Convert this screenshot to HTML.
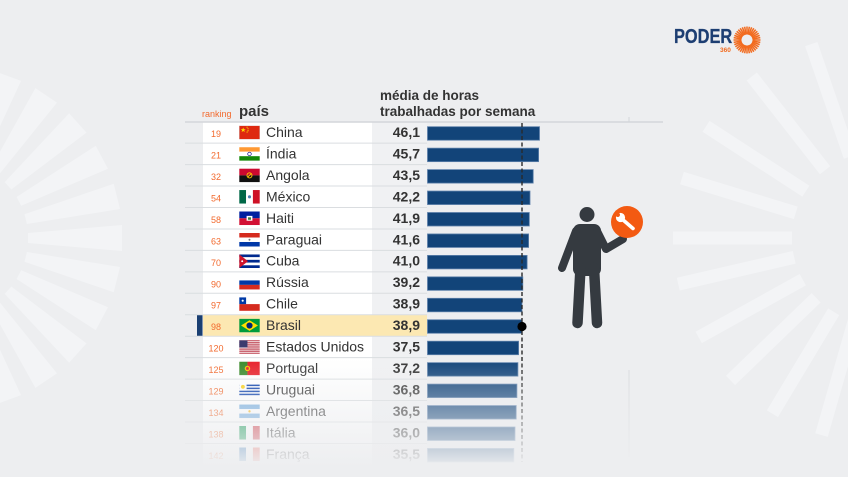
<!DOCTYPE html>
<html><head><meta charset="utf-8">
<style>
html,body{margin:0;padding:0;background:#edeef0;}
svg{display:block;}
text{font-family:"Liberation Sans",sans-serif;}
</style></head>
<body>
<svg width="848" height="477" viewBox="0 0 848 477" xmlns="http://www.w3.org/2000/svg">
<defs>
<linearGradient id="fade" gradientUnits="userSpaceOnUse" x1="0" y1="358" x2="0" y2="468">
<stop offset="0" stop-color="#edeef0" stop-opacity="0"/>
<stop offset="1" stop-color="#edeef0" stop-opacity="1"/>
</linearGradient>
</defs>
<rect width="848" height="477" fill="#edeef0"/>

<!-- left background sunburst -->
<g fill="#f3f4f6" transform="translate(-50,238)">
<g transform="rotate(-84)"><polygon points="78,-5 172,-13 172,13 78,5"/></g>
<g transform="rotate(-70)"><polygon points="78,-5 172,-13 172,13 78,5"/></g>
<g transform="rotate(-56)"><polygon points="78,-5 172,-13 172,13 78,5"/></g>
<g transform="rotate(-42)"><polygon points="78,-5 172,-13 172,13 78,5"/></g>
<g transform="rotate(-28)"><polygon points="78,-5 172,-13 172,13 78,5"/></g>
<g transform="rotate(-14)"><polygon points="78,-5 172,-13 172,13 78,5"/></g>
<g transform="rotate(0)"><polygon points="78,-5 172,-13 172,13 78,5"/></g>
<g transform="rotate(14)"><polygon points="78,-5 172,-13 172,13 78,5"/></g>
<g transform="rotate(28)"><polygon points="78,-5 172,-13 172,13 78,5"/></g>
<g transform="rotate(42)"><polygon points="78,-5 172,-13 172,13 78,5"/></g>
<g transform="rotate(56)"><polygon points="78,-5 172,-13 172,13 78,5"/></g>
<g transform="rotate(70)"><polygon points="78,-5 172,-13 172,13 78,5"/></g>
<g transform="rotate(84)"><polygon points="78,-5 172,-13 172,13 78,5"/></g>
</g>

<!-- right background sunburst -->
<g fill="#f3f4f6" transform="translate(878,238)">
<g transform="rotate(180)"><rect x="86" y="-6.5" width="119" height="13"/></g>
<g transform="rotate(197)"><rect x="86" y="-6.5" width="119" height="13"/></g>
<g transform="rotate(213)"><rect x="86" y="-6.5" width="119" height="13"/></g>
<g transform="rotate(232)"><rect x="86" y="-6.5" width="119" height="13"/></g>
<g transform="rotate(251)"><rect x="86" y="-6.5" width="119" height="13"/></g>
<g transform="rotate(167)"><rect x="86" y="-6.5" width="119" height="13"/></g>
<g transform="rotate(151)"><rect x="86" y="-6.5" width="119" height="13"/></g>
<g transform="rotate(136)"><rect x="86" y="-6.5" width="119" height="13"/></g>
<g transform="rotate(121)"><rect x="86" y="-6.5" width="119" height="13"/></g>
<g transform="rotate(106)"><rect x="86" y="-6.5" width="119" height="13"/></g>
</g>

<!-- logo -->
<text x="674" y="43" font-size="20" font-weight="bold" fill="#1d3e72" stroke="#1d3e72" stroke-width="0.3" transform="translate(674,0) scale(0.82,1) translate(-674,0)">PODER</text>
<text x="720" y="52" font-size="6.5" font-weight="bold" fill="#f26b1f">360</text>
<g stroke="#f26b1f" stroke-width="1.5" transform="translate(747,40)">
<g id="ray"><line x1="5.5" y1="0" x2="13.5" y2="0"/></g>
<use href="#ray" transform="rotate(10)"/><use href="#ray" transform="rotate(20)"/><use href="#ray" transform="rotate(30)"/>
<use href="#ray" transform="rotate(40)"/><use href="#ray" transform="rotate(50)"/><use href="#ray" transform="rotate(60)"/>
<use href="#ray" transform="rotate(70)"/><use href="#ray" transform="rotate(80)"/><use href="#ray" transform="rotate(90)"/>
<use href="#ray" transform="rotate(100)"/><use href="#ray" transform="rotate(110)"/><use href="#ray" transform="rotate(120)"/>
<use href="#ray" transform="rotate(130)"/><use href="#ray" transform="rotate(140)"/><use href="#ray" transform="rotate(150)"/>
<use href="#ray" transform="rotate(160)"/><use href="#ray" transform="rotate(170)"/><use href="#ray" transform="rotate(180)"/>
<use href="#ray" transform="rotate(190)"/><use href="#ray" transform="rotate(200)"/><use href="#ray" transform="rotate(210)"/>
<use href="#ray" transform="rotate(220)"/><use href="#ray" transform="rotate(230)"/><use href="#ray" transform="rotate(240)"/>
<use href="#ray" transform="rotate(250)"/><use href="#ray" transform="rotate(260)"/><use href="#ray" transform="rotate(270)"/>
<use href="#ray" transform="rotate(280)"/><use href="#ray" transform="rotate(290)"/><use href="#ray" transform="rotate(300)"/>
<use href="#ray" transform="rotate(310)"/><use href="#ray" transform="rotate(320)"/><use href="#ray" transform="rotate(330)"/>
<use href="#ray" transform="rotate(340)"/><use href="#ray" transform="rotate(350)"/>
</g>

<!-- headers -->
<text x="202" y="117" font-size="9" fill="#f26a2e">ranking</text>
<text x="239" y="116" font-size="15" font-weight="bold" fill="#333">país</text>
<text x="380" y="100" font-size="13.5" font-weight="bold" fill="#333">média de horas</text>
<text x="380" y="116" font-size="13.5" font-weight="bold" fill="#333">trabalhadas por semana</text>

<!-- column backgrounds -->
<rect x="203" y="122" width="169" height="343" fill="#ffffff"/>
<rect x="372" y="122" width="55" height="343" fill="#f0f1f3"/>

<!-- Brasil highlight -->
<rect x="203" y="314.75" width="224" height="21.45" fill="#fce8b2"/>
<rect x="197" y="314.75" width="5.5" height="21.45" fill="#1a3f72"/>

<!-- separators -->
<g stroke="#dadde0" stroke-width="1">
<line x1="185" y1="143.15" x2="427" y2="143.15"/>
<line x1="185" y1="164.6" x2="427" y2="164.6"/>
<line x1="185" y1="186.05" x2="427" y2="186.05"/>
<line x1="185" y1="207.5" x2="427" y2="207.5"/>
<line x1="185" y1="228.95" x2="427" y2="228.95"/>
<line x1="185" y1="250.4" x2="427" y2="250.4"/>
<line x1="185" y1="271.85" x2="427" y2="271.85"/>
<line x1="185" y1="293.3" x2="427" y2="293.3"/>
<line x1="185" y1="314.75" x2="427" y2="314.75"/>
<line x1="185" y1="336.2" x2="427" y2="336.2"/>
<line x1="185" y1="357.65" x2="427" y2="357.65"/>
<line x1="185" y1="379.1" x2="427" y2="379.1"/>
<line x1="185" y1="400.55" x2="427" y2="400.55"/>
<line x1="185" y1="422" x2="427" y2="422"/>
<line x1="185" y1="443.45" x2="427" y2="443.45"/>
</g>
<line x1="185" y1="122" x2="663" y2="122" stroke="#d3d6da" stroke-width="1.6"/>
<line x1="629" y1="117" x2="629" y2="122" stroke="#d3d6da" stroke-width="1"/>
<line x1="629" y1="370" x2="629" y2="457" stroke="#d8dadd" stroke-width="1"/>

<!-- bars -->
<g fill="#124479" stroke="#5d80aa" stroke-width="0.8">
<rect x="427.5" y="126.7" width="112" height="13.5"/>
<rect x="427.5" y="148.15" width="111.1" height="13.5"/>
<rect x="427.5" y="169.6" width="105.7" height="13.5"/>
<rect x="427.5" y="191.05" width="102.5" height="13.5"/>
<rect x="427.5" y="212.5" width="101.8" height="13.5"/>
<rect x="427.5" y="233.95" width="101.1" height="13.5"/>
<rect x="427.5" y="255.4" width="99.6" height="13.5"/>
<rect x="427.5" y="276.85" width="95.3" height="13.5"/>
<rect x="427.5" y="298.3" width="94.5" height="13.5"/>
<rect x="427.5" y="319.75" width="94.5" height="13.5"/>
<rect x="427.5" y="341.2" width="91.1" height="13.5"/>
<rect x="427.5" y="362.65" width="90.4" height="13.5"/>
<rect x="427.5" y="384.1" width="89.4" height="13.5"/>
<rect x="427.5" y="405.55" width="88.7" height="13.5"/>
<rect x="427.5" y="427" width="87.5" height="13.5"/>
<rect x="427.5" y="448.45" width="86.3" height="13.5"/>
</g>
<line x1="522" y1="123" x2="522" y2="462" stroke="#2a2a2a" stroke-width="1.4" stroke-dasharray="4 2.5"/>
<circle cx="522" cy="326.5" r="4.6" fill="#000"/>

<!-- ranking numbers -->
<g font-size="9" fill="#f26a2e" text-anchor="middle">
<text x="216" y="137">19</text>
<text x="216" y="158.5">21</text>
<text x="216" y="180">32</text>
<text x="216" y="201.5">54</text>
<text x="216" y="222.9">58</text>
<text x="216" y="244.4">63</text>
<text x="216" y="265.8">70</text>
<text x="216" y="287.3">90</text>
<text x="216" y="308.7">97</text>
<text x="216" y="330.2">98</text>
<text x="216" y="351.6">120</text>
<text x="216" y="373.1">125</text>
<text x="216" y="394.5">129</text>
<text x="216" y="416">134</text>
<text x="216" y="437.4">138</text>
<text x="216" y="458.9">142</text>
</g>

<!-- country names -->
<g font-size="14" fill="#333">
<text x="266" y="137">China</text>
<text x="266" y="158.5">Índia</text>
<text x="266" y="180">Angola</text>
<text x="266" y="201.4">México</text>
<text x="266" y="222.8">Haiti</text>
<text x="266" y="244.3">Paraguai</text>
<text x="266" y="265.7">Cuba</text>
<text x="266" y="287.2">Rússia</text>
<text x="266" y="308.6">Chile</text>
<text x="266" y="330.1">Brasil</text>
<text x="266" y="351.5">Estados Unidos</text>
<text x="266" y="373">Portugal</text>
<text x="266" y="394.4">Uruguai</text>
<text x="266" y="415.9">Argentina</text>
<text x="266" y="437.3">Itália</text>
<text x="266" y="458.8">França</text>
</g>

<!-- values -->
<g font-size="14" font-weight="bold" fill="#333" text-anchor="end">
<text x="420" y="137">46,1</text>
<text x="420" y="158.5">45,7</text>
<text x="420" y="180">43,5</text>
<text x="420" y="201.4">42,2</text>
<text x="420" y="222.8">41,9</text>
<text x="420" y="244.3">41,6</text>
<text x="420" y="265.7">41,0</text>
<text x="420" y="287.2">39,2</text>
<text x="420" y="308.6">38,9</text>
<text x="420" y="330.1">38,9</text>
<text x="420" y="351.5">37,5</text>
<text x="420" y="373">37,2</text>
<text x="420" y="394.4">36,8</text>
<text x="420" y="415.9">36,5</text>
<text x="420" y="437.3">36,0</text>
<text x="420" y="458.8">35,5</text>
</g>

<!-- flags -->
<g stroke="#c8cbd0" stroke-width="0.4">
<svg x="239" y="125.7" width="21" height="13.6" viewBox="0 0 21 14"><rect width="21" height="14" fill="#de2910"/><polygon points="4,1.8 4.7,3.6 6.6,3.6 5.1,4.7 5.6,6.5 4,5.4 2.4,6.5 2.9,4.7 1.4,3.6 3.3,3.6" fill="#ffde00" stroke="none"/><circle cx="8" cy="1.6" r="0.6" fill="#ffde00" stroke="none"/><circle cx="9" cy="3.2" r="0.6" fill="#ffde00" stroke="none"/><circle cx="9" cy="5.2" r="0.6" fill="#ffde00" stroke="none"/><circle cx="8" cy="6.6" r="0.6" fill="#ffde00" stroke="none"/></svg>
<svg x="239" y="147.15" width="21" height="13.6" viewBox="0 0 21 14"><rect width="21" height="4.7" fill="#ff9933" stroke="none"/><rect y="4.7" width="21" height="4.6" fill="#fff" stroke="none"/><rect y="9.3" width="21" height="4.7" fill="#138808" stroke="none"/><circle cx="10.5" cy="7" r="1.8" fill="none" stroke="#000080" stroke-width="0.7"/></svg>
<svg x="239" y="168.6" width="21" height="13.6" viewBox="0 0 21 14"><rect width="21" height="7" fill="#cc092f" stroke="none"/><rect y="7" width="21" height="7" fill="#111" stroke="none"/><circle cx="10.5" cy="7" r="2.6" fill="none" stroke="#ffcb00" stroke-width="0.9"/><line x1="8.5" y1="9" x2="12.5" y2="5" stroke="#ffcb00" stroke-width="0.9"/></svg>
<svg x="239" y="190.05" width="21" height="13.6" viewBox="0 0 21 14"><rect width="7" height="14" fill="#006847" stroke="none"/><rect x="7" width="7" height="14" fill="#fff" stroke="none"/><rect x="14" width="7" height="14" fill="#ce1126" stroke="none"/><circle cx="10.5" cy="7" r="1.6" fill="#4a7fb0" stroke="none"/></svg>
<svg x="239" y="211.5" width="21" height="13.6" viewBox="0 0 21 14"><rect width="21" height="7" fill="#00209f" stroke="none"/><rect y="7" width="21" height="7" fill="#d21034" stroke="none"/><rect x="7.5" y="4.5" width="6" height="5" fill="#fff" stroke="none"/><rect x="9" y="6" width="3" height="2.5" fill="#3a7a3a" stroke="none"/></svg>
<svg x="239" y="232.95" width="21" height="13.6" viewBox="0 0 21 14"><rect width="21" height="4.7" fill="#d52b1e" stroke="none"/><rect y="4.7" width="21" height="4.6" fill="#fff" stroke="none"/><rect y="9.3" width="21" height="4.7" fill="#0038a8" stroke="none"/><circle cx="10.5" cy="7" r="1" fill="#777" stroke="none"/></svg>
<svg x="239" y="254.4" width="21" height="13.6" viewBox="0 0 21 14"><rect width="21" height="14" fill="#fff" stroke="none"/><rect y="0" width="21" height="2.8" fill="#002a8f" stroke="none"/><rect y="5.6" width="21" height="2.8" fill="#002a8f" stroke="none"/><rect y="11.2" width="21" height="2.8" fill="#002a8f" stroke="none"/><polygon points="0,0 9,7 0,14" fill="#cf142b" stroke="none"/><circle cx="3" cy="7" r="1" fill="#fff" stroke="none"/></svg>
<svg x="239" y="275.85" width="21" height="13.6" viewBox="0 0 21 14"><rect width="21" height="4.7" fill="#fff" stroke="none"/><rect y="4.7" width="21" height="4.6" fill="#0039a6" stroke="none"/><rect y="9.3" width="21" height="4.7" fill="#d52b1e" stroke="none"/></svg>
<svg x="239" y="297.3" width="21" height="13.6" viewBox="0 0 21 14"><rect width="21" height="7" fill="#fff" stroke="none"/><rect y="7" width="21" height="7" fill="#d52b1e" stroke="none"/><rect width="7" height="7" fill="#0039a6" stroke="none"/><circle cx="3.5" cy="3.5" r="1.1" fill="#fff" stroke="none"/></svg>
<svg x="239" y="318.75" width="21" height="13.6" viewBox="0 0 21 14"><rect width="21" height="14" fill="#009c3b" stroke="none"/><polygon points="10.5,1.5 19.2,7 10.5,12.5 1.8,7" fill="#ffdf00" stroke="none"/><circle cx="10.5" cy="7" r="3.2" fill="#002776" stroke="none"/></svg>
<svg x="239" y="340.2" width="21" height="13.6" viewBox="0 0 21 14"><rect width="21" height="14" fill="#fff" stroke="none"/><g fill="#b22234" stroke="none"><rect y="0" width="21" height="1.08"/><rect y="2.15" width="21" height="1.08"/><rect y="4.3" width="21" height="1.08"/><rect y="6.45" width="21" height="1.08"/><rect y="8.6" width="21" height="1.08"/><rect y="10.75" width="21" height="1.08"/><rect y="12.92" width="21" height="1.08"/></g><rect width="8.4" height="7.5" fill="#3c3b6e" stroke="none"/></svg>
<svg x="239" y="361.65" width="21" height="13.6" viewBox="0 0 21 14"><rect width="8.4" height="14" fill="#3a8a2a" stroke="none"/><rect x="8.4" width="12.6" height="14" fill="#e8202a" stroke="none"/><circle cx="8.4" cy="7" r="2.8" fill="#f4c300" stroke="none"/><circle cx="8.4" cy="7" r="1.5" fill="#e8202a" stroke="none"/></svg>
<svg x="239" y="383.1" width="21" height="13.6" viewBox="0 0 21 14"><rect width="21" height="14" fill="#fff" stroke="none"/><g fill="#0038a8" stroke="none"><rect y="1.55" width="21" height="1.55"/><rect y="4.66" width="21" height="1.55"/><rect y="7.77" width="21" height="1.55"/><rect y="10.88" width="21" height="1.55"/></g><rect width="7.5" height="7.7" fill="#fff" stroke="none"/><circle cx="3.7" cy="3.8" r="2" fill="#fcd116" stroke="none"/></svg>
<svg x="239" y="404.55" width="21" height="13.6" viewBox="0 0 21 14"><rect width="21" height="4.7" fill="#74acdf" stroke="none"/><rect y="4.7" width="21" height="4.6" fill="#fff" stroke="none"/><rect y="9.3" width="21" height="4.7" fill="#74acdf" stroke="none"/><circle cx="10.5" cy="7" r="1.2" fill="#f6b40e" stroke="none"/></svg>
<svg x="239" y="426" width="21" height="13.6" viewBox="0 0 21 14"><rect width="7" height="14" fill="#009246" stroke="none"/><rect x="7" width="7" height="14" fill="#fff" stroke="none"/><rect x="14" width="7" height="14" fill="#ce2b37" stroke="none"/></svg>
<svg x="239" y="447.45" width="21" height="13.6" viewBox="0 0 21 14"><rect width="7" height="14" fill="#0055a4" stroke="none"/><rect x="7" width="7" height="14" fill="#fff" stroke="none"/><rect x="14" width="7" height="14" fill="#ef4135" stroke="none"/></svg>
</g>

<!-- bottom fade -->
<rect x="180" y="355" width="460" height="122" fill="url(#fade)"/>

<!-- person icon -->
<g fill="#353a40" stroke="#353a40" stroke-linecap="round" stroke-linejoin="round">
<circle cx="587" cy="214.5" r="7.5" stroke="none"/>
<rect x="573" y="224" width="28" height="52" rx="7" stroke="none"/>
<line x1="580.5" y1="268" x2="577.5" y2="323" stroke-width="10.5"/>
<line x1="594" y1="268" x2="597" y2="323" stroke-width="10.5"/>
<line x1="576" y1="231" x2="562" y2="268" stroke-width="8" fill="none"/>
<polyline points="597,231 606,249 623,239" stroke-width="8" fill="none"/>
</g>
<circle cx="627" cy="222" r="16" fill="#f35a12"/>
<g stroke="#fff" stroke-linecap="round">
<line x1="622" y1="219" x2="633" y2="228.5" stroke-width="3.6"/>
</g>
<circle cx="620.5" cy="217.5" r="4.6" fill="#fff"/>
<circle cx="617.8" cy="214.8" r="2.2" fill="#f35a12"/>
</svg>
</body></html>
